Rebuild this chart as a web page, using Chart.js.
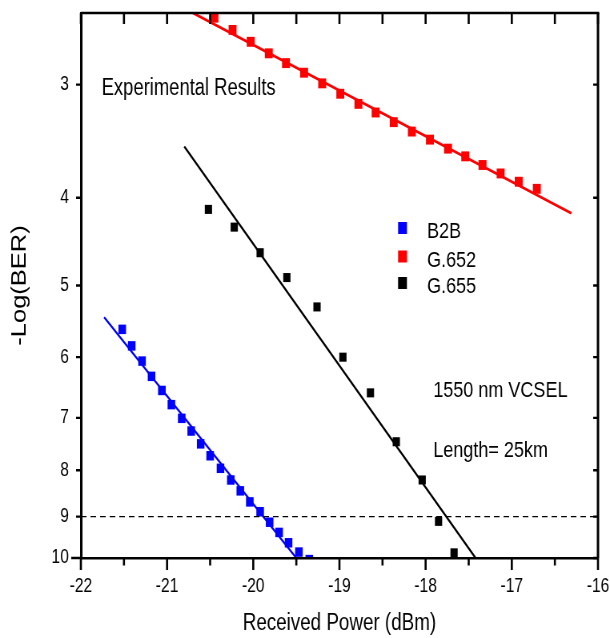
<!DOCTYPE html>
<html>
<head>
<meta charset="utf-8">
<title>BER vs Received Power</title>
<script src="https://cdn.jsdelivr.net/npm/chart.js@4.4.1/dist/chart.umd.min.js"></script>
<style>
    html, body { margin: 0; padding: 0; background: #fff; overflow: hidden; }
    /* the original figure is squeezed horizontally, so draw wide and squeeze */
    #wrap { width: 762px; height: 638px; transform: scaleX(0.8005); transform-origin: 0 0; }
</style>
</head>
<body>
<div id="wrap"><canvas id="berChart" width="762" height="638"></canvas></div>
<script>
// received power (dBm) and -log(BER)
const b2bPower = [-21.52, -21.41, -21.29, -21.18, -21.06, -20.95, -20.83, -20.72, -20.61, -20.50,
                  -20.38, -20.26, -20.15, -20.04, -19.92, -19.81, -19.70, -19.59, -19.47, -19.35];
const b2bBer = [5.59, 5.83, 6.06, 6.30, 6.53, 6.77, 7.01, 7.24, 7.48, 7.71,
                7.96, 8.20, 8.43, 8.67, 8.89, 9.13, 9.37, 9.62, 9.85, 10.04];

const g652Power = [-20.45, -20.24, -20.03, -19.82, -19.62, -19.41, -19.20, -18.99, -18.78, -18.58,
                   -18.37, -18.16, -17.95, -17.74, -17.54, -17.34, -17.13, -16.92, -16.71];
const g652Ber = [2.53, 2.61, 2.69, 2.77, 2.84, 2.91, 2.99, 3.07, 3.15, 3.22,
                 3.30, 3.38, 3.45, 3.53, 3.60, 3.68, 3.76, 3.84, 3.91];

const g655Power = [-20.52, -20.22, -19.92, -19.61, -19.26, -18.96, -18.64, -18.34, -18.04, -17.85, -17.67];
const g655Ber = [4.12, 4.31, 4.60, 4.90, 5.28, 6.00, 6.57, 7.44, 8.20, 9.11, 9.87];

// fitted lines (end points)
const b2bFitPower = [-21.73, -19.50];
const b2bFitBer = [5.42, 10];
const g652FitPower = [-20.70, -16.31];
const g652FitBer = [2.5, 4.16];
const g655FitPower = [-20.80, -17.42];
const g655FitBer = [3.51, 10];

const thresholdBer = 9;

const xTicks = [-22, -21, -20, -19, -18, -17, -16];
const yTicks = [3, 4, 5, 6, 7, 8, 9, 10];
const yMin = 2.5;
const yMax = 10;

const FONT = "'Liberation Sans', Arial, Helvetica, sans-serif";

function toPoints(xs, ys) {
    return xs.map((x, i) => ({ x: x, y: ys[i] }));
}

function markerSet(label, xs, ys, color, radius) {
    return {
        label: label,
        data: toPoints(xs, ys),
        backgroundColor: color,
        borderColor: color,
        pointStyle: 'rect',
        pointRadius: radius,
        pointBorderWidth: 0,
        showLine: false,
        clip: 0,
        isMarker: true
    };
}

function lineSet(xs, ys, color, width, dash) {
    return {
        data: toPoints(xs, ys),
        borderColor: color,
        borderWidth: width,
        borderDash: dash || [],
        pointRadius: 0,
        showLine: true,
        fill: false,
        clip: 0
    };
}

// keep the plot box where the figure has it: no extra room for edge labels
function noEdgePadding(s) {
    s.paddingTop = 0;
    s.paddingBottom = 0;
    s.paddingLeft = 0;
    s.paddingRight = 0;
}

// top/right spines, tick marks, in-plot texts and the legend
const frameAndNotes = {
    id: 'frameAndNotes',
    afterDraw(chart) {
        const { ctx, chartArea: a, scales: { x, y } } = chart;
        ctx.save();
        ctx.strokeStyle = '#000';
        ctx.lineCap = 'butt';

        ctx.lineWidth = 2.5;
        ctx.beginPath();
        ctx.moveTo(a.left, a.top);
        ctx.lineTo(a.right + 1.5, a.top);
        ctx.stroke();
        ctx.lineWidth = 3;
        ctx.beginPath();
        ctx.moveTo(a.right, a.top);
        ctx.lineTo(a.right, a.bottom);
        ctx.stroke();

        // x ticks every 0.5 dBm, out at the bottom, in at the top
        ctx.lineWidth = 2.6;
        for (let v = xTicks[0]; v <= xTicks[xTicks.length - 1] + 1e-9; v += 0.5) {
            const px = x.getPixelForValue(v);
            const major = Math.abs(v - Math.round(v)) < 1e-9;
            ctx.beginPath();
            ctx.moveTo(px, a.bottom);
            ctx.lineTo(px, a.bottom + (major ? 12 : 7.5));
            ctx.moveTo(px, a.top);
            ctx.lineTo(px, a.top + 11);
            ctx.stroke();
        }

        // y ticks, out on the left, in on the right
        ctx.lineWidth = 2.3;
        yTicks.forEach(v => {
            const py = y.getPixelForValue(v);
            ctx.beginPath();
            ctx.moveTo(a.left, py);
            ctx.lineTo(a.left - (v === 10 ? 12 : 6), py);
            ctx.moveTo(a.right, py);
            ctx.lineTo(a.right - 6, py);
            ctx.stroke();
        });

        ctx.fillStyle = '#000';
        ctx.textBaseline = 'alphabetic';
        ctx.textAlign = 'left';
        ctx.font = '23px ' + FONT;
        ctx.fillText('Experimental Results', 127, 95);
        ctx.font = '22.5px ' + FONT;
        ctx.fillText('1550 nm VCSEL', 541.3, 396.7);
        ctx.fillText('Length= 25km', 541.3, 457);

        // legend
        const rows = [
            { box: 228, base: 238 },
            { box: 256.5, base: 266.7 },
            { box: 283, base: 293 }
        ];
        ctx.font = '22.5px ' + FONT;
        chart.data.datasets.filter(d => d.isMarker).forEach((d, i) => {
            const r = rows[i];
            ctx.fillStyle = d.backgroundColor;
            ctx.fillRect(502.8 - 5.5, r.box - 6, 11, 12);
            ctx.fillStyle = '#000';
            ctx.fillText(d.label, 533.5, r.base);
        });
        ctx.restore();
    }
};

Chart.defaults.font.family = FONT;
Chart.defaults.color = '#000';

new Chart(document.getElementById('berChart'), {
    type: 'scatter',
    data: {
        datasets: [
            lineSet([xTicks[0], xTicks[xTicks.length - 1]], [thresholdBer, thresholdBer], '#000', 1.3, [7, 5]),
            lineSet(b2bFitPower, b2bFitBer, '#0000ff', 2.3),
            lineSet(g652FitPower, g652FitBer, '#ff0000', 2.8),
            lineSet(g655FitPower, g655FitBer, '#000000', 2.3),
            markerSet('B2B', b2bPower, b2bBer, '#0000ff', 6.7),
            markerSet('G.652', g652Power, g652Ber, '#ff0000', 7),
            markerSet('G.655', g655Power, g655Ber, '#000000', 6.4)
        ]
    },
    options: {
        responsive: false,
        animation: false,
        devicePixelRatio: 1,
        layout: { padding: { left: 0, right: 15, top: 13, bottom: 0 } },
        plugins: {
            legend: { display: false },
            tooltip: { enabled: false }
        },
        scales: {
            x: {
                type: 'linear',
                position: 'bottom',
                min: xTicks[0],
                max: xTicks[xTicks.length - 1],
                afterBuildTicks: s => {
                    s.ticks = xTicks.map(v => ({ value: v }));
                    s.min = xTicks[0];
                    s.max = xTicks[xTicks.length - 1];
                },
                ticks: {
                    padding: 17,
                    maxRotation: 0,
                    font: { size: 19.5 },
                    callback: v => String(v)
                },
                grid: { display: false, drawTicks: false },
                border: { display: true, color: '#000', width: 2.5, z: 1 },
                title: {
                    display: true,
                    text: 'Received Power (dBm)',
                    font: { size: 23.5 },
                    padding: { top: 0, bottom: 0 }
                },
                afterFit: s => { s.height = 80; noEdgePadding(s); }
            },
            y: {
                type: 'logarithmic',
                position: 'left',
                reverse: true,
                bounds: 'data',
                min: yMin,
                max: yMax,
                afterBuildTicks: s => {
                    s.ticks = yTicks.map(v => ({ value: v }));
                    s.min = yMin;
                    s.max = yMax;
                },
                ticks: {
                    padding: 15,
                    font: { size: 19.5 },
                    callback: v => String(v)
                },
                grid: { display: false, drawTicks: false },
                border: { display: true, color: '#000', width: 3, z: 1 },
                title: {
                    display: true,
                    text: '-Log(BER)',
                    font: { size: 25.5 },
                    padding: { top: 10, bottom: 0 }
                },
                afterFit: s => { s.width = 101; noEdgePadding(s); }
            }
        }
    },
    plugins: [frameAndNotes]
});
</script>
</body>
</html>
